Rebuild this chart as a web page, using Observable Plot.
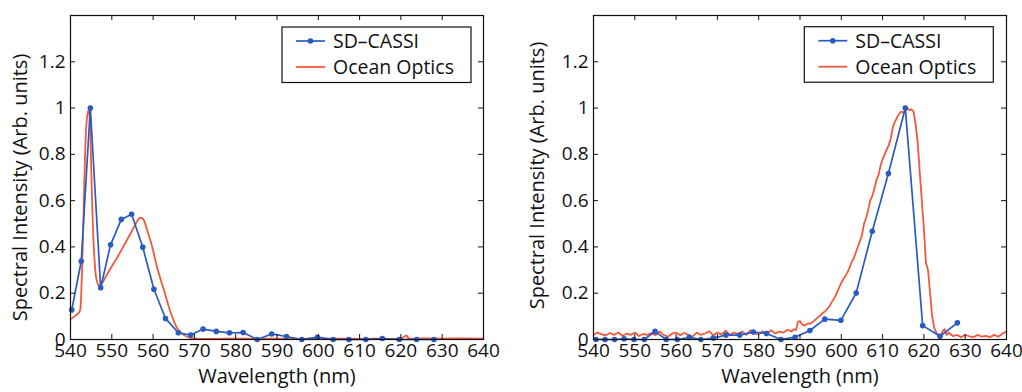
<!DOCTYPE html>
<html><head><meta charset="utf-8">
<script src="https://cdn.jsdelivr.net/npm/d3@7"></script>
<script src="https://cdn.jsdelivr.net/npm/@observablehq/plot@0.6"></script>
<style>
body{margin:0;background:#fff}
#wrap{display:flex;width:1022px;height:392px;overflow:hidden;background:#fff}
</style></head><body><div id="wrap"></div>
<script>
const xTicks = [540, 550, 560, 570, 580, 590, 600, 610, 620, 630, 640];
const yTicks = [0, 0.2, 0.4, 0.6, 0.8, 1, 1.2];
const seriesNames = ["SD\u2013CASSI", "Ocean Optics"];
const xLabel = "Wavelength (nm)";
const yLabel = "Spectral Intensity (Arb. units)";

// Left panel
const cassiLeftWl = [540.3, 542.6, 544.8, 547.3, 549.7, 552.3, 554.8, 557.5, 560.2, 563.0, 566.1, 569.1, 572.1, 575.3, 578.5, 581.8, 585.2, 588.7, 592.3, 596.0, 599.8, 603.6, 607.4, 611.5, 615.5, 619.6, 623.8, 628.0];
const cassiLeftVal = [0.128, 0.338, 1.0, 0.224, 0.409, 0.519, 0.541, 0.399, 0.217, 0.091, 0.029, 0.019, 0.045, 0.035, 0.029, 0.030, 0.0, 0.024, 0.013, 0, 0.01, 0, 0, 0, 0.004, 0, 0, 0];
const oceanLeft = [[540,0.087],[541,0.1],[542,0.115],[542.3,0.125],[542.7,0.25],[543.1,0.5],[543.5,0.78],[543.9,0.94],[544.3,0.99],[544.6,0.97],[545.0,0.75],[545.4,0.5],[545.8,0.35],[546.3,0.26],[546.9,0.232],[547.5,0.24],[548.5,0.27],[549.7,0.307],[551,0.345],[552.1,0.379],[553.3,0.418],[554.5,0.457],[555.5,0.49],[556.5,0.521],[557.0,0.526],[557.6,0.52],[558.6,0.47],[559.8,0.4],[561.0,0.31],[562.6,0.215],[564.2,0.12],[565.8,0.05],[567.4,0.02],[569.0,0.007],[571,0.003],[575,0.003],[580,0.004],[585,0.003],[590,0.004],[595,0.003],[600,0.004],[605,0.004],[610,0.003],[615,0.004],[620,0.004],[620.8,0.012],[621.3,0.018],[621.9,0.005],[625,0.005],[630,0.004],[635,0.005],[640,0.004]];

// Right panel
const cassiRightWl = [540.6, 542.8, 545.1, 547.4, 549.8, 552.3, 554.9, 557.6, 560.3, 563.2, 566.0, 569.0, 572.1, 575.4, 578.7, 581.9, 585.4, 588.8, 592.4, 596.0, 599.9, 603.6, 607.5, 611.4, 615.5, 619.7, 623.9, 628.1];
const cassiRightVal = [0, 0, 0, 0.003, 0, 0, 0.035, 0, 0, 0.009, 0, 0.006, 0.019, 0.019, 0.032, 0.026, 0, 0.01, 0.039, 0.088, 0.083, 0.201, 0.468, 0.717, 1.0, 0.06, 0.014, 0.072];
const oceanRight = [[540,0.02],[541,0.03],[542,0.022],[543,0.018],[544,0.028],[545,0.02],[546,0.03],[547,0.016],[548,0.025],[549,0.02],[550,0.03],[551,0.015],[552,0.024],[553,0.02],[554,0.028],[555,0.018],[556,0.035],[557,0.02],[558,0.012],[559,0.025],[560,0.03],[561,0.018],[562,0.028],[563,0.02],[564,0.012],[565,0.03],[566,0.02],[567,0.026],[568,0.036],[569,0.018],[570,0.03],[571,0.022],[572,0.038],[573,0.02],[574,0.03],[575,0.024],[576,0.035],[577,0.02],[578,0.04],[579,0.026],[580,0.022],[581,0.036],[582,0.025],[583,0.04],[584,0.026],[585,0.034],[586,0.03],[587,0.042],
[588,0.035],[588.5,0.045],[589,0.04],[589.5,0.075],[590,0.08],[590.5,0.065],[591,0.06],[591.5,0.065],[592,0.07],[592.5,0.068],[593,0.075],[593.5,0.082],[594,0.09],[594.5,0.098],[595,0.105],[595.5,0.115],[596,0.12],[596.5,0.13],[597,0.14],[597.5,0.155],[598,0.17],[598.5,0.185],[599,0.205],[599.5,0.225],[600,0.245],[600.5,0.26],[601,0.275],[601.5,0.29],[602,0.31],[602.5,0.335],[603,0.35],[603.5,0.375],[604,0.4],[604.5,0.425],[605,0.45],[605.5,0.5],[606,0.525],[606.5,0.56],[607,0.6],[607.5,0.62],[608,0.65],[608.5,0.69],[609,0.71],[609.5,0.75],[610,0.78],[610.5,0.8],[611,0.82],[611.5,0.84],[612,0.87],[612.5,0.92],[613,0.94],[613.5,0.96],[614,0.975],[614.5,0.985],[615,0.98],[615.5,0.99],[616,1.0],[616.5,0.99],[617,0.995],[617.5,0.985],[618,0.93],[618.5,0.85],[619,0.72],[619.5,0.6],[620,0.48],[620.5,0.33],[621,0.3],[621.5,0.2],[622,0.1],[622.5,0.05],[623,0.03],[623.5,0.02],[624,0.015],[624.5,0.035],[625,0.045],[625.5,0.02],[626,0.03],
[627,0.015],[628,0.02],[629,0.01],[630,0.02],[631,0.014],[632,0.01],[633,0.02],[634,0.012],[635,0.016],[636,0.01],[637,0.02],[638,0.012],[639,0.025],[640,0.035]];

const BLUE = "#2a5bc0", RED = "#f2583e", INK = "#111";
const FONT = '"Open Sans", sans-serif';
const fmt = d => String(+d.toFixed(1));

function panel(cWl, cVal, ocean, m) {
  const cassi = cWl.map((w, i) => ({w, v: cVal[i]}));
  const oo = ocean.map(([w, v]) => ({w, v}));
  const W = 511, H = 392;
  const fw = W - m.left - m.right, fh = H - m.top - m.bottom;
  const svg = Plot.plot({
    width: W, height: H,
    marginLeft: m.left, marginRight: m.right, marginTop: m.top, marginBottom: m.bottom,
    x: {domain: [540, 640], axis: null},
    y: {domain: [0, 1.4], axis: null},
    style: {fontFamily: FONT, background: "#fff", color: INK},
    marks: [
      Plot.line(oo, {x: "w", y: "v", stroke: RED, strokeWidth: 1.8, curve: m.curve}),
      Plot.line(cassi, {x: "w", y: "v", stroke: BLUE, strokeWidth: 1.7}),
      Plot.dot(cassi, {x: "w", y: "v", r: 2.8, fill: BLUE}),
      Plot.tickX(xTicks, {x: d => d, insetTop: fh - 5, stroke: INK}),
      Plot.tickX(xTicks, {x: d => d, insetBottom: fh - 5, stroke: INK}),
      Plot.tickY(yTicks, {y: d => d, insetRight: fw - 5, stroke: INK}),
      Plot.tickY(yTicks, {y: d => d, insetLeft: fw - 5, stroke: INK}),
      Plot.frame({stroke: INK, strokeWidth: 1.2}),
      Plot.text(xTicks, {x: d => d, text: d => String(d), frameAnchor: "bottom", dy: 17, fontSize: 19, fill: INK}),
      Plot.text(yTicks, {y: d => d, text: fmt, frameAnchor: "left", dx: -5, textAnchor: "end", fontSize: 19, fill: INK}),
      Plot.text([yLabel], {text: d => d, frameAnchor: "left", dx: m.ylabDx, dy: m.ylabDy, textAnchor: "middle", rotate: -90, fontSize: 20, fill: INK}),
      Plot.text([xLabel], {text: d => d, frameAnchor: "bottom", dy: 43.5, textAnchor: "middle", fontSize: 20, fill: INK})
    ]
  });
  // boxed legend
  const g = d3.select(svg).append("g").attr("font-family", FONT).attr("font-size", 19.5)
    .attr("fill", INK).attr("text-anchor", "start");
  const x0 = m.legX, y0 = m.legY;
  g.append("rect").attr("x", x0).attr("y", y0).attr("width", 189).attr("height", 55.5)
    .attr("fill", "#fff").attr("stroke", INK).attr("stroke-width", 1.2);
  const rows = [{name: seriesNames[0], color: BLUE, dot: true, cy: y0 + 14}, {name: seriesNames[1], color: RED, dot: false, cy: y0 + 40}];
  rows.forEach(r => {
    g.append("line").attr("x1", x0 + 14).attr("x2", x0 + 43).attr("y1", r.cy).attr("y2", r.cy)
      .attr("stroke", r.color).attr("stroke-width", r.dot ? 1.7 : 1.8);
    if (r.dot) g.append("circle").attr("cx", x0 + 28.5).attr("cy", r.cy).attr("r", 2.8).attr("fill", r.color);
    g.append("text").attr("x", x0 + 51).attr("y", r.cy).attr("dy", "0.35em")
      .attr("text-anchor", "start").text(r.name);
  });
  return svg;
}

const wrap = document.getElementById("wrap");
wrap.appendChild(panel(cassiLeftWl, cassiLeftVal, oceanLeft,
  {left: 70, right: 28, top: 15, bottom: 53, ylabDx: -50, ylabDy: 10, legX: 282, legY: 27, curve: "catmull-rom"}));
wrap.appendChild(panel(cassiRightWl, cassiRightVal, oceanRight,
  {left: 82, right: 16, top: 15, bottom: 53, ylabDx: -55.5, ylabDy: -2, legX: 293.3, legY: 26.7, curve: "linear"}));
</script></body></html>
